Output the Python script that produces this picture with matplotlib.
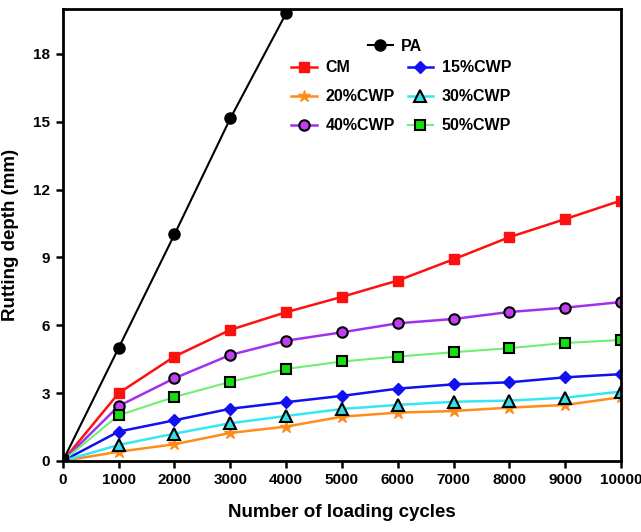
import matplotlib
matplotlib.use("Agg")
import matplotlib.pyplot as plt

plt.rcParams['font.family'] = ['Liberation Sans', 'DejaVu Sans']
plt.rcParams['font.weight'] = 'bold'

cycles = [0, 1000, 2000, 3000, 4000, 5000, 6000, 7000, 8000, 9000, 10000]
pa_cycles = [0, 1000, 2000, 3000, 4000]
pa = [0, 5.0, 10.02, 15.15, 19.8]
cm = [0, 3.0, 4.62, 5.8, 6.58, 7.26, 7.98, 8.92, 9.9, 10.7, 11.52]
cwp15 = [0, 1.3, 1.8, 2.31, 2.6, 2.88, 3.2, 3.39, 3.48, 3.7, 3.84]
cwp20 = [0, 0.41, 0.74, 1.24, 1.52, 1.96, 2.14, 2.21, 2.36, 2.48, 2.82]
cwp30 = [0, 0.71, 1.21, 1.67, 1.99, 2.3, 2.48, 2.62, 2.67, 2.8, 3.07]
cwp40 = [0, 2.43, 3.66, 4.69, 5.32, 5.69, 6.09, 6.28, 6.59, 6.78, 7.03]
cwp50 = [0, 2.02, 2.83, 3.5, 4.07, 4.4, 4.62, 4.81, 4.99, 5.22, 5.35]

fig = plt.figure(figsize=(6.41, 5.32), dpi=100)
ax = fig.add_axes([0.098, 0.1335, 0.871, 0.85])

pa_line, = ax.plot(pa_cycles, pa, color='black', lw=1.5, marker='o', ms=8,
                   mfc='black', mec='black', label='PA', zorder=3)
l_cm, = ax.plot(cycles, cm, color='#FF1010', lw=1.8, marker='s', ms=7,
                mfc='#FF1010', mec='#FF1010', label='CM')
l_15, = ax.plot(cycles, cwp15, color='#1010F0', lw=1.8, marker='D', ms=6,
                mfc='#1010F0', mec='#1010F0', label='15%CWP')
l_20, = ax.plot(cycles, cwp20, color='#FF8C1A', lw=1.8, marker='*', ms=9,
                mfc='#FF8C1A', mec='#FF8C1A', label='20%CWP')
l_30, = ax.plot(cycles, cwp30, color='#33E8F0', lw=1.8, marker='^', ms=8,
                mfc='#33E0E8', mec='black', mew=1.5, label='30%CWP')
l_40, = ax.plot(cycles, cwp40, color='#A030F0', lw=1.8, marker='o', ms=7.5,
                mfc='#C040F0', mec='black', mew=1.5, label='40%CWP')
l_50, = ax.plot(cycles, cwp50, color='#70F070', lw=1.5, marker='s', ms=7,
                mfc='#10E010', mec='black', mew=1.5, label='50%CWP')

ax.set_xlim(0, 10000)
ax.set_ylim(0, 20)
ax.set_xticks(cycles)
ax.set_yticks([0, 3, 6, 9, 12, 15, 18])
ax.tick_params(direction='out', length=5, width=1.8, labelsize=11, pad=4)
for lab in ax.get_xticklabels() + ax.get_yticklabels():
    lab.set_fontweight('bold')
for s in ax.spines.values():
    s.set_linewidth(2)

ax.set_xlabel('Number of loading cycles', fontsize=13.5, fontweight='bold', labelpad=12)
ax.set_ylabel('Rutting depth (mm)', fontsize=13.5, fontweight='bold', labelpad=10)

leg1 = ax.legend(handles=[pa_line], loc='upper left', bbox_to_anchor=(0.52, 0.965),
                 frameon=False, handlelength=1.6, handletextpad=0.5,
                 prop={'weight': 'bold', 'size': 11.5})
ax.add_artist(leg1)
ax.legend(handles=[l_cm, l_20, l_40, l_15, l_30, l_50], ncol=2, loc='upper left',
          bbox_to_anchor=(0.383, 0.918), frameon=False, handlelength=1.6,
          handletextpad=0.55, labelspacing=0.88, columnspacing=0.8,
          prop={'weight': 'bold', 'size': 11.5})

fig.savefig('out.png', dpi=100)
